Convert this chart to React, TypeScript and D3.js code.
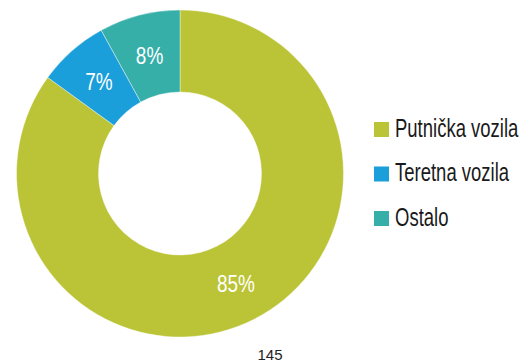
import React from "react";
import * as d3 from "d3";

const categories = ["Putnička vozila", "Teretna vozila", "Ostalo"];
const values = [85, 7, 8];
const valueLabels = ["85%", "7%", "8%"];
const colors = ["#bbc437", "#1b9fda", "#36afa9"];
const pageNumber = "145";

export default function App() {
  const W = 531, H = 362;
  const cx = 180, cy = 173.5;
  const outerR = 163.5, innerR = 81.5;
  const pie = d3.pie<number>().sort(null).value((d) => d);
  const arcs = pie(values);
  const arc = d3.arc<d3.PieArcDatum<number>>().innerRadius(innerR).outerRadius(outerR);
  const labelR = (innerR + outerR) / 2;
  const labelArc = d3.arc<d3.PieArcDatum<number>>().innerRadius(labelR).outerRadius(labelR);
  const font = "'Liberation Sans', Arial, sans-serif";
  const legendY = d3.scalePoint<string>().domain(categories).range([122, 211]);

  return (
    <svg width={W} height={H} style={{ position: "absolute", left: 0, top: 0 }}>
      <rect width={W} height={H} fill="#ffffff" />
      <g transform={`translate(${cx},${cy})`}>
        {arcs.map((a, i) => (
          <path key={i} d={arc(a) || ""} fill={colors[i]} stroke="#ffffff" strokeWidth={0.4} />
        ))}
        {arcs.map((a, i) => {
          const [x, y] = labelArc.centroid(a);
          const lx = i === 0 ? 56 : x;
          const ly = i === 0 ? 110 : y;
          return (
            <text
              key={i}
              transform={`translate(${lx},${ly}) scale(0.79,1)`}
              dy="0.36em"
              textAnchor="middle"
              fill="#ffffff"
              fontFamily={font}
              fontSize={24}
            >
              {valueLabels[i]}
            </text>
          );
        })}
      </g>
      {categories.map((c, i) => {
        const y = legendY(c) as number;
        return (
          <g key={c}>
            <rect x={374} y={y} width={15} height={15} fill={colors[i]} />
            <text
              transform={`translate(395,${y + 14.7}) scale(0.74,1)`}
              fill="#1a1a1a"
              fontFamily={font}
              fontSize={25}
            >
              {c}
            </text>
          </g>
        );
      })}
      <text
        x={270}
        y={360}
        textAnchor="middle"
        fill="#222222"
        fontFamily={font}
        fontSize={15}
      >
        {pageNumber}
      </text>
    </svg>
  );
}
